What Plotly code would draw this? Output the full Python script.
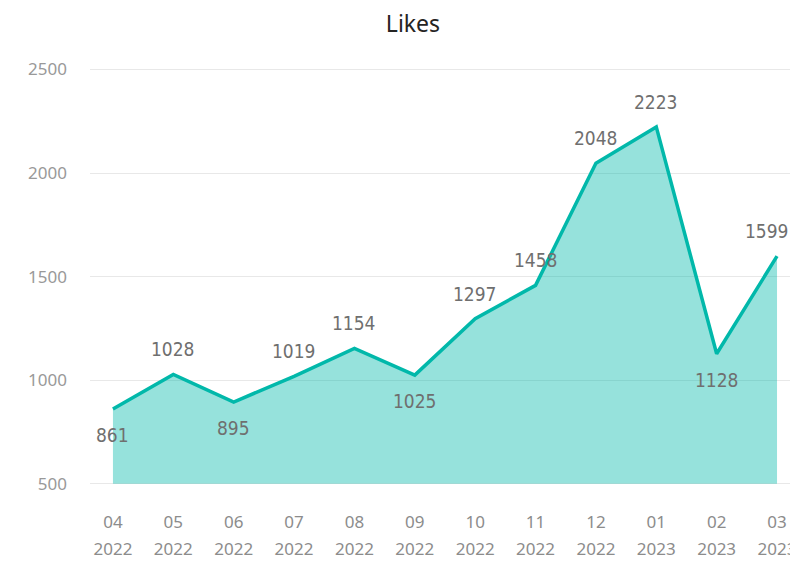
import plotly.graph_objects as go

# Monthly likes, April 2022 to March 2023
months = ["04", "05", "06", "07", "08", "09", "10", "11", "12", "01", "02", "03"]
years = ["2022", "2022", "2022", "2022", "2022", "2022",
         "2022", "2022", "2022", "2023", "2023", "2023"]
likes = [861, 1028, 895, 1019, 1154, 1025, 1297, 1458, 2048, 2223, 1128, 1599]
label_side = ["below", "above", "below", "above", "above", "below",
              "above", "above", "above", "above", "below", "above"]
y_ticks = [500, 1000, 1500, 2000, 2500]
baseline = y_ticks[0]

categories = [f"{m} {y}" for m, y in zip(months, years)]

LINE = "#01B8AA"
FILL = "rgba(1,184,170,0.41)"
TICK_FONT = "Noto Sans"
LABEL_FONT = "DejaVu Sans Condensed"

fig = go.Figure()

# invisible baseline so the area stops at the axis floor, not at zero
fig.add_trace(go.Scatter(
    x=categories, y=[baseline] * len(categories), mode="lines",
    line=dict(width=0, color=FILL), showlegend=False, hoverinfo="skip",
))
fig.add_trace(go.Scatter(
    x=categories, y=likes, mode="lines", fill="tonexty", fillcolor=FILL,
    line=dict(color=LINE, width=3.5), showlegend=False,
))
# carrier trace for the second (year) tick row
fig.add_trace(go.Scatter(
    x=categories, y=[baseline] * len(categories), xaxis="x2", mode="lines",
    line=dict(width=0), showlegend=False, hoverinfo="skip",
))

last = len(categories) - 1
for i, (c, v, side) in enumerate(zip(categories, likes, label_side)):
    fig.add_annotation(
        x=c, y=v, text=str(v), showarrow=False,
        yshift=25 if side == "above" else -26,
        xshift=-10 if i == last else 0,  # keep the last label inside the frame
        font=dict(family=LABEL_FONT, size=19, color="#6f6f6f"),
    )

x_range = [-0.38, 11.48]
fig.update_layout(
    width=798, height=562,
    title=dict(text="Likes", x=0.5075, xref="container", xanchor="center",
               y=0.972, yanchor="middle",
               font=dict(family=TICK_FONT, size=23, color="#252423")),
    plot_bgcolor="white", paper_bgcolor="white",
    margin=dict(l=82, r=0, t=47, b=82),
    xaxis=dict(
        range=x_range, tickvals=categories, ticktext=months,
        showgrid=False, zeroline=False, showline=False, ticks="",
        ticklabelstandoff=22,
        tickfont=dict(family=TICK_FONT, size=17, color="#8c8c8c"),
    ),
    xaxis2=dict(
        range=x_range, overlaying="x", side="bottom", anchor="y",
        tickvals=categories, ticktext=years,
        showgrid=False, zeroline=False, showline=False, ticks="",
        ticklabelstandoff=49,
        tickfont=dict(family=TICK_FONT, size=17, color="#8c8c8c"),
    ),
    yaxis=dict(
        range=[480, 2570], tickvals=y_ticks, showgrid=True, gridcolor="#e8e8e8",
        gridwidth=1, zeroline=False, showline=False, ticks="", ticklabelstandoff=22,
        tickfont=dict(family=TICK_FONT, size=17, color="#999999"),
    ),
)

fig.write_html("out.html")
